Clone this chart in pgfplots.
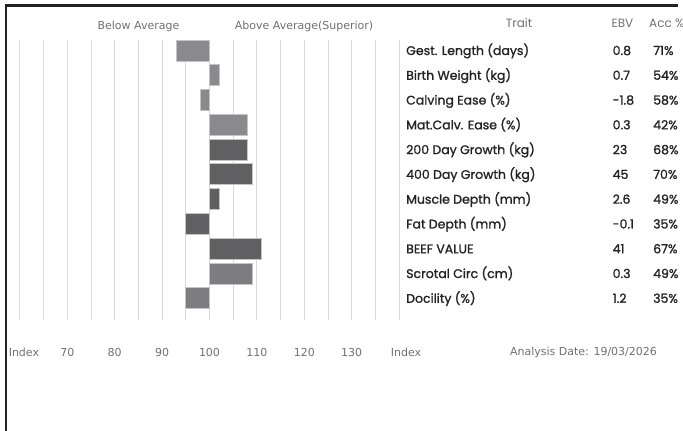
\documentclass[border=0pt]{standalone}
\usepackage{fontspec}
\setmainfont{DejaVu Sans}
\newfontfamily\pop{Poppins}[FakeBold=1.2]
\newfontfamily\poph{Poppins}
\usepackage{pgfplots}
\pgfplotsset{compat=1.18}
\definecolor{barlight}{HTML}{8A8A8E}
\definecolor{bardark}{HTML}{606062}
\definecolor{barmid}{HTML}{7D7D81}
\definecolor{barline}{HTML}{C4C4C6}
\definecolor{gridc}{HTML}{D8D8D8}
\definecolor{labc}{HTML}{707070}
\definecolor{txtc}{HTML}{222222}
\begin{document}
\begin{tikzpicture}
\path[use as bounding box] (0,0) rectangle (683pt,431pt);
\begin{scope}
\clip (0,0) rectangle (683pt,431pt);
\begin{axis}[
  at={(19.9pt,111pt)}, anchor=south west,
  scale only axis, width=355.5pt, height=280pt,
  xmin=-40, xmax=35, ymin=0.576, ymax=11.876, y dir=reverse,
  axis line style={draw=none},
  xtick={-40,-30,...,30}, minor xtick={-35,-25,...,35},
  xticklabels={{\hspace*{8pt}Index},70,80,90,100,110,120,130},
  xmajorgrids, xminorgrids,
  major grid style={draw=gridc, line width=1pt},
  minor grid style={draw=gridc, line width=1pt},
  major tick length=0pt, minor tick length=0pt,
  ytick=\empty,
  xticklabel style={font=\fontsize{11}{13}\selectfont, text=labc, anchor=center, yshift=-32pt},
  xbar, bar width=21pt, bar shift=0pt,
  clip=false,
]
\addplot[fill=barlight, draw=barline, line width=0.8pt] coordinates {(-7,1) (2,2) (-2,3) (8,4)};
\addplot[fill=bardark, draw=barline, line width=0.8pt] coordinates {(8,5) (9,6) (2,7) (-5,8) (11,9)};
\addplot[fill=barmid, draw=barline, line width=0.8pt] coordinates {(9,10) (-5,11)};
\end{axis}
% frame
\draw[txtc, line width=2.2pt] (6pt,0pt) -- (6pt,425.5pt) -- (678pt,425.5pt);
% headings
\node[text=labc, font=\fontsize{11}{13}\selectfont] at (138.5pt,405pt) {Below Average};
\node[text=labc, font=\fontsize{11}{13}\selectfont] at (304pt,405pt) {Above Average(Superior)};
% table
\draw[draw=gridc, line width=1.5pt] (399.5pt,391pt) -- (399.5pt,111pt);
\node[text=labc, font=\poph\fontsize{12}{14}\selectfont, anchor=base] at (519pt,403pt) {Trait};
\node[text=labc, font=\poph\fontsize{12}{14}\selectfont, anchor=base west, inner sep=0] at (611.5pt,403pt) {EBV};
\node[text=labc, font=\poph\fontsize{12}{14}\selectfont, anchor=base west, inner sep=0] at (649pt,403pt) {Acc \%};
\foreach \t/\e/\a [count=\i from 0] in {Gest. Length (days)/0.8/71\%, Birth Weight (kg)/0.7/54\%, Calving Ease (\%)/-1.8/58\%, Mat.Calv. Ease (\%)/0.3/42\%, 200 Day Growth (kg)/23/68\%, 400 Day Growth (kg)/45/70\%, Muscle Depth (mm)/2.6/49\%, Fat Depth (mm)/-0.1/35\%, BEEF VALUE/41/67\%, Scrotal Circ (cm)/0.3/49\%, Docility (\%)/1.2/35\%}{
  \pgfmathsetmacro{\yy}{431-55-\i*24.78}
  \node[text=txtc, font=\pop\fontsize{12.5}{14}\selectfont, anchor=base west, inner sep=0] at (406pt,\yy pt) {\t};
  \node[text=txtc, font=\pop\fontsize{12.5}{14}\selectfont, anchor=base west, inner sep=0] at (612.5pt,\yy pt) {\e};
  \node[text=txtc, font=\pop\fontsize{12.5}{14}\selectfont, anchor=base west, inner sep=0] at (653pt,\yy pt) {\a};
}
% bottom labels
\node[text=labc, font=\fontsize{11}{13}\selectfont] at (406pt,79pt) {Index};
\node[text=labc, font=\fontsize{11}{13}\selectfont] at (583.5pt,79pt) {Analysis Date: 19/03/2026};
\end{scope}
\end{tikzpicture}
\end{document}
